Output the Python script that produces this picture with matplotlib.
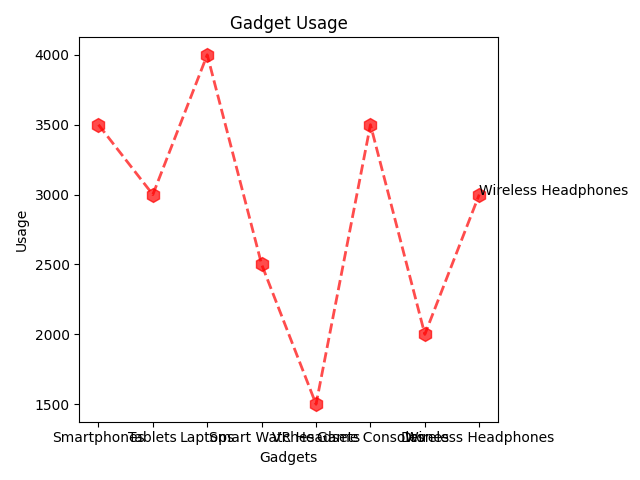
import matplotlib
matplotlib.use('Agg')
import matplotlib.pyplot as plt

# Gadget usage data
gadgets = ['Smartphones', 'Tablets', 'Laptops', 'Smart Watches', 'VR Headsets',
           'Game Consoles', 'Drones', 'Wireless Headphones']
usage = [3500, 3000, 4000, 2500, 1500, 3500, 2000, 3000]

fig = plt.figure(figsize=(6.4, 4.8), dpi=100)
plt.plot(gadgets, usage, color='red', linestyle='--', linewidth=2,
         marker='h', markersize=10, alpha=0.7)
plt.title('Gadget Usage')
plt.xlabel('Gadgets')
plt.ylabel('Usage')

# label the last point
plt.text(gadgets[-1], usage[-1], gadgets[-1])

plt.tight_layout()
plt.savefig('out.png')
